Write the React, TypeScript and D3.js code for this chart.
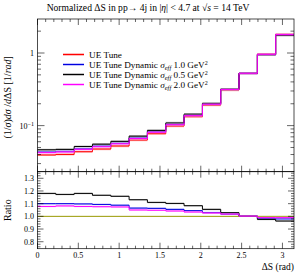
import React from 'react';
import * as d3 from 'd3';

// bin edges of Delta S (rad), 14 bins over [0, pi]
const binEdges = [0, 0.224, 0.449, 0.673, 0.898, 1.122, 1.346, 1.571, 1.795, 2.02, 2.244, 2.468, 2.693, 2.917, 3.1416];

// UE Tune (reference) normalized distribution
const ueTune = [0.0394, 0.0401, 0.0437, 0.0476, 0.0524, 0.0633, 0.0774, 0.0988, 0.1327, 0.192, 0.309, 0.525, 0.969, 1.81];

// ratios to UE Tune
const ratioDyn10 = [1.1, 1.1, 1.098, 1.094, 1.088, 1.065, 1.063, 1.055, 1.045, 1.03, 1.018, 1.002, 0.984, 0.98];
const ratioDyn05 = [1.181, 1.173, 1.181, 1.166, 1.158, 1.131, 1.11, 1.102, 1.084, 1.055, 1.029, 1.002, 0.976, 0.963];
const ratioDyn20 = [1.078, 1.082, 1.078, 1.076, 1.074, 1.05, 1.048, 1.042, 1.034, 1.026, 1.018, 1.002, 0.99, 0.99];

const xTicks = [0, 0.5, 1, 1.5, 2, 2.5, 3];
const ratioTicks = [0.8, 0.9, 1.0, 1.1, 1.2, 1.3];

const series = [
  { name: 'UE Tune', sig: '', ratio: ueTune.map(() => 1), color: '#ff0000', band: '#ff7777' },
  { name: 'UE Tune Dynamic', sig: '1.0', ratio: ratioDyn10, color: '#0000dd', band: '#8888ff' },
  { name: 'UE Tune Dynamic', sig: '0.5', ratio: ratioDyn05, color: '#000000', band: '#888888' },
  { name: 'UE Tune Dynamic', sig: '2.0', ratio: ratioDyn20, color: '#ff00ff', band: '#ff88ff' },
];

const W = 304;
const H = 274;
const left = 37.5;
const right = 294;
const top = 19;
const mid = 171.7;
const bottom = 248.7;
const font = '"Liberation Serif", "DejaVu Serif", serif';

export default function App() {
  const x = d3.scaleLinear().domain([0, Math.PI]).range([left, right]);
  const y = d3.scaleLog().domain([0.0232, 2.94]).range([mid, top]);
  const yr = d3.scaleLinear().domain([0.745, 1.352]).range([bottom, mid]);

  const steps = (vals: number[]) => {
    const pts = vals.map((v, i) => [binEdges[i], v] as [number, number]);
    pts.push([binEdges[binEdges.length - 1], vals[vals.length - 1]]);
    return pts;
  };

  const mainLine = d3.line<[number, number]>().curve(d3.curveStepAfter)
    .x((d) => x(d[0])).y((d) => y(d[1]));
  const mainBand = d3.area<[number, number]>().curve(d3.curveStepAfter)
    .x((d) => x(d[0])).y0((d) => y(d[1] * 0.965)).y1((d) => y(d[1] * 1.035));
  const ratioLine = d3.line<[number, number]>().curve(d3.curveStepAfter)
    .x((d) => x(d[0])).y((d) => yr(d[1]));
  const ratioBand = d3.area<[number, number]>().curve(d3.curveStepAfter)
    .x((d) => x(d[0])).y0((d) => yr(d[1] - 0.006)).y1((d) => yr(d[1] + 0.006));

  const minorX = d3.range(0, 31).map((i) => i / 10).filter((v) => v <= Math.PI);
  const logMinor: number[] = [];
  [0.01, 0.1, 1].forEach((dec) => {
    for (let k = 2; k <= 9; k++) {
      const v = dec * k;
      if (v >= 0.0232 && v <= 2.94) logMinor.push(v);
    }
  });
  const ratioMinor = d3.range(0, 31).map((i) => 0.74 + i * 0.02).filter((v) => v >= 0.745 && v <= 1.352);

  const tickColor = '#000';

  const xTickMarks = (y0: number, y1: number) => (
    <g stroke={tickColor} strokeWidth={0.6}>
      {minorX.map((v, i) => {
        const major = Math.abs(v * 2 - Math.round(v * 2)) < 1e-6;
        const len = major ? 6 : 3;
        return (
          <g key={i}>
            <line x1={x(v)} x2={x(v)} y1={y1} y2={y1 - len} />
            <line x1={x(v)} x2={x(v)} y1={y0} y2={y0 + len} />
          </g>
        );
      })}
    </g>
  );

  return (
    <div style={{ position: 'absolute', left: 0, top: 0 }}>
      <svg width={W} height={H} style={{ display: 'block', background: '#fff' }} fontFamily={font}>
        <text x={148} y={11} fontSize={9.6} textAnchor="middle">
          Normalized ΔS in pp→ 4j in |<tspan fontStyle="italic">η</tspan>| &lt; 4.7 at √<tspan fontStyle="italic">s</tspan> = 14 TeV
        </text>

        {/* main panel */}
        {series.map((s, i) => {
          const vals = ueTune.map((v, j) => v * s.ratio[j]);
          return (
            <g key={i}>
              <path d={mainBand(steps(vals)) || ''} fill={s.band} opacity={0.5} />
              <path d={mainLine(steps(vals)) || ''} fill="none" stroke={s.color} strokeWidth={1} />
            </g>
          );
        })}

        {/* ratio panel */}
        <line x1={left} x2={right} y1={yr(1)} y2={yr(1)} stroke="#999900" strokeWidth={1} />
        {series.slice(1).map((s, i) => (
          <g key={i}>
            <path d={ratioBand(steps(s.ratio)) || ''} fill={s.band} opacity={0.5} />
            <path d={ratioLine(steps(s.ratio)) || ''} fill="none" stroke={s.color} strokeWidth={1} />
          </g>
        ))}

        {/* frames */}
        <rect x={left} y={top} width={right - left} height={mid - top} fill="none" stroke="#000" strokeWidth={0.7} />
        <rect x={left} y={mid} width={right - left} height={bottom - mid} fill="none" stroke="#000" strokeWidth={0.7} />

        {xTickMarks(top, mid)}
        {xTickMarks(mid, bottom)}

        {/* log y ticks */}
        <g stroke={tickColor} strokeWidth={0.6}>
          {[0.1, 1].map((v) => (
            <g key={v}>
              <line x1={left} x2={left + 7} y1={y(v)} y2={y(v)} />
              <line x1={right} x2={right - 7} y1={y(v)} y2={y(v)} />
            </g>
          ))}
          {logMinor.map((v) => (
            <g key={v}>
              <line x1={left} x2={left + 3.5} y1={y(v)} y2={y(v)} />
              <line x1={right} x2={right - 3.5} y1={y(v)} y2={y(v)} />
            </g>
          ))}
        </g>
        <text x={34} y={y(1) + 3} fontSize={8} textAnchor="end">1</text>
        <text x={34} y={y(0.1) + 3} fontSize={8} textAnchor="end">
          10<tspan dy={-3} fontSize={6}>−1</tspan>
        </text>

        {/* ratio y ticks */}
        <g stroke={tickColor} strokeWidth={0.6}>
          {ratioMinor.map((v, i) => {
            const major = Math.abs(v * 10 - Math.round(v * 10)) < 1e-6;
            const len = major ? 6 : 3;
            return (
              <g key={i}>
                <line x1={left} x2={left + len} y1={yr(v)} y2={yr(v)} />
                <line x1={right} x2={right - len} y1={yr(v)} y2={yr(v)} />
              </g>
            );
          })}
        </g>
        {ratioTicks.map((v) => (
          <text key={v} x={34} y={yr(v) + 3} fontSize={8} textAnchor="end">{v.toFixed(1)}</text>
        ))}

        {xTicks.map((v) => (
          <text key={v} x={x(v)} y={258} fontSize={8} textAnchor="middle">{v}</text>
        ))}
        <text x={right} y={270} fontSize={9.5} textAnchor="end">ΔS (rad)</text>

        <text transform={`translate(11, ${(top + mid) / 2 + 2}) rotate(-90)`} fontSize={10} textAnchor="middle">
          (1/<tspan fontStyle="italic">σ</tspan>)<tspan fontStyle="italic">dσ</tspan> /<tspan fontStyle="italic">d</tspan>ΔS [1/<tspan fontStyle="italic">rad</tspan>]
        </text>
        <text transform={`translate(11, ${(mid + bottom) / 2}) rotate(-90)`} fontSize={10} textAnchor="middle">Ratio</text>

        {/* legend */}
        {series.map((s, i) => {
          const ly = 54.5 + i * 10;
          return (
            <g key={i}>
              <rect x={63} y={ly - 1.5} width={21} height={3} fill={s.band} opacity={0.5} />
              <line x1={63} x2={84} y1={ly} y2={ly} stroke={s.color} strokeWidth={1} />
              <text x={89} y={ly + 3} fontSize={9.2}>
                {s.name}
                {s.sig && (
                  <>
                    {' '}<tspan fontStyle="italic">σ</tspan><tspan fontStyle="italic" fontSize={6.5} dy={2}>eff</tspan>
                    <tspan dy={-2}> {s.sig} GeV</tspan><tspan fontSize={6} dy={-3}>2</tspan>
                  </>
                )}
              </text>
            </g>
          );
        })}
      </svg>
    </div>
  );
}
